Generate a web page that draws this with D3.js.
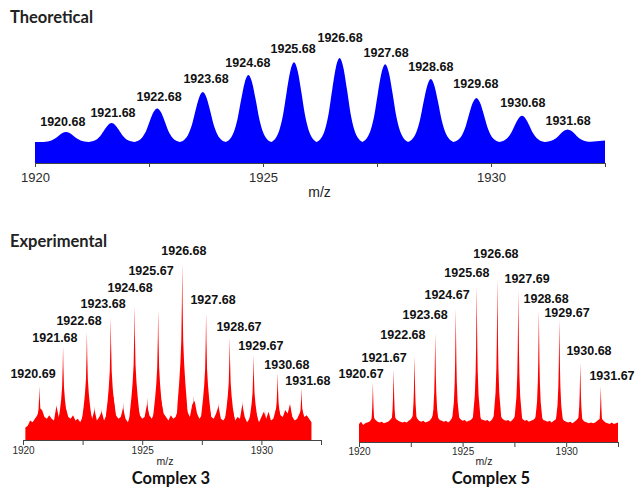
<!DOCTYPE html>
<html>
<head>
<meta charset="utf-8">
<script src="https://d3js.org/d3.v7.min.js"></script>
<style>
body { margin: 0; background: #fff; }
</style>
</head>
<body>
<div class="spectra"></div>
<script>
// all intensities are relative (%), tallest peak of each panel = 100

var axisTicks = [1920, 1922.5, 1925, 1927.5, 1930, 1932.5];

// theoretical isotope envelope
var theoMz = [1920.68, 1921.68, 1922.68, 1923.68, 1924.68, 1925.68, 1926.68, 1927.68, 1928.68, 1929.68, 1930.68, 1931.68];
var theoTop = [29.5, 38, 52, 67.6, 83.8, 96, 100, 94, 80, 62, 45, 32];
var theoBase = 20;
var theoFloor = [[1920, 20], [1932, 20], [1932.5, 21.5]];
var theoLabelMz = [1920.61, 1921.71, 1922.72, 1923.75, 1924.67, 1925.66, 1926.69, 1927.70, 1928.68, 1929.67, 1930.70, 1931.69];
var theoLabelY = [35.2, 43.8, 59, 76.2, 91.4, 104.8, 115.2, 101, 87.6, 71.4, 53.3, 36.2];

// experimental, complex 3
var exp3Mz = [1920.69, 1921.68, 1922.68, 1923.68, 1924.68, 1925.67, 1926.68, 1927.68, 1928.67, 1929.67, 1930.68, 1931.68];
var exp3Top = [30.5, 53, 61, 69.5, 76, 73.4, 100, 71.8, 58, 48, 37.9, 29.4];
var exp3MinorMz = [1921.42, 1923.0, 1923.3, 1924.2, 1925.22, 1927.15, 1928.2, 1929.2, 1930.15, 1931.2];
var exp3MinorTop = [20, 19, 18, 21, 24, 25, 21, 22, 17, 21];
var exp3FloorStart = 1920.1;
var exp3Floor = [7, 8, 11, 10, 12, 14, 18, 17, 13, 12,
    14, 12, 11, 19, 13, 16, 20, 18, 13, 12,
    14, 11, 12, 10, 13, 20, 22, 17, 12, 17,
    11, 13, 16, 11, 14, 24, 28, 24, 14, 12,
    13, 18, 12, 10, 14, 22, 26, 20, 14, 12,
    13, 20, 14, 12, 15, 25, 30, 22, 15, 13,
    11, 14, 12, 13, 17, 30, 34, 24, 16, 13,
    20, 22, 15, 12, 14, 22, 26, 19, 13, 12,
    15, 19, 12, 11, 13, 18, 22, 17, 11, 13,
    12, 20, 13, 10, 12, 16, 20, 14, 10, 13,
    16, 12, 16, 11, 12, 17, 19, 14, 13, 17,
    15, 20, 13, 11, 12, 15, 18, 13, 14, 12, 10];
var exp3LabelMz = [1920.42, 1921.34, 1922.35, 1923.36, 1924.49, 1925.37, 1926.75, 1927.97, 1929.06, 1929.98, 1931.07, 1931.95];
var exp3LabelY = [35, 55.4, 65, 74.6, 83.6, 93.2, 104.5, 76.8, 61.6, 50.8, 40.1, 31.1];

// experimental, complex 5
var exp5Mz = [1920.67, 1921.67, 1922.68, 1923.68, 1924.67, 1925.68, 1926.68, 1927.69, 1928.68, 1929.67, 1930.68, 1931.67];
var exp5Top = [36.3, 44.7, 52.7, 67, 82, 95.9, 100, 93.2, 81, 75.2, 48.6, 34.2];
var exp5FloorStart = 1920.0;
var exp5Floor = [11, 12.5, 10.5, 11.5, 12, 12.5, 14, 15, 13.5, 12.5,
    12, 12.5, 11.5, 12, 12.5, 13.5, 15, 15.5, 14, 13,
    12.5, 12, 12.5, 12, 13, 14, 16, 16.5, 14.5, 13,
    12.5, 13, 12, 12.5, 13, 14.5, 17, 17.5, 15, 13.5,
    13, 12.5, 13, 12, 13, 15, 17.5, 18, 15.5, 14,
    13, 13.5, 12.5, 13, 13.5, 15, 18, 18.5, 16, 14,
    13.5, 13, 13.5, 12.5, 13.5, 15.5, 18.5, 19, 16.5, 14.5,
    13.5, 13, 13.5, 12.5, 13.5, 15, 18, 18.5, 16, 14,
    13, 13.5, 12.5, 13, 13.5, 14.5, 17, 17.5, 15, 13.5,
    13, 12.5, 13, 12, 13, 14, 16.5, 17, 14.5, 13,
    12.5, 12, 12.5, 11.5, 12.5, 13.5, 15, 15.5, 13.5, 12.5,
    12, 11.5, 12, 11.5, 12, 13, 14, 14.5, 13, 12,
    11.5, 11, 12, 11, 11.5, 12];
var exp5LabelMz = [1920.10, 1921.21, 1922.12, 1923.19, 1924.25, 1925.21, 1926.61, 1928.11, 1929.03, 1930.04, 1931.10, 1932.21];
var exp5LabelY = [39.3, 49.1, 63.2, 75.5, 87.7, 101.2, 112.9, 97.5, 85.3, 76.7, 53.4, 38];

// peak profiles (offset in m/z, fraction of peak height)
var theoShape = { offset: [-0.5, -0.4, -0.32, -0.24, -0.16, -0.08, 0, 0.08, 0.16, 0.24, 0.32, 0.4, 0.5], frac: [0, 0.05, 0.15, 0.34, 0.63, 0.89, 1, 0.89, 0.63, 0.34, 0.15, 0.05, 0] };
var exp3Shape = { offset: [-0.28, -0.2, -0.13, -0.08, -0.04, -0.015, 0, 0.015, 0.04, 0.08, 0.13, 0.2, 0.28], frac: [0, 0.2, 0.32, 0.43, 0.56, 0.78, 1, 0.78, 0.56, 0.43, 0.32, 0.2, 0] };
var exp5Shape = { offset: [-0.3, -0.18, -0.09, -0.05, -0.03, -0.012, 0, 0.012, 0.03, 0.05, 0.09, 0.18, 0.3], frac: [0, 0.16, 0.3, 0.45, 0.6, 0.82, 1, 0.82, 0.6, 0.45, 0.3, 0.16, 0] };

var svg = d3.select(".spectra").append("svg").attr("width", 635).attr("height", 488);
svg.append("rect").attr("width", 635).attr("height", 488).attr("fill", "#fff");

function floorPoints(start, values) {
    return values.map(function(v, i) { return [start + i * 0.1, v]; });
}

function drawPanel(p) {
    var x = d3.scaleLinear().domain([1920, 1932.5]).range([p.left, p.right]);
    var y = d3.scaleLinear().domain([0, 100]).range([p.axisY, p.topY]);
    var area = d3.area().x(function(d) { return x(d[0]); }).y0(p.axisY).y1(function(d) { return y(d[1]); }).curve(p.curve);
    var g = svg.append("g");
    g.append("path").datum(p.floor).attr("d", area).attr("fill", p.color);
    for (var i = 0; i < p.mz.length; i++) {
        var m = p.mz[i], h = p.top[i] - p.base;
        var pts = p.shape.offset.map(function(o, k) { return [m + o, p.base + h * p.shape.frac[k]]; });
        g.append("path").datum(pts).attr("d", area).attr("fill", p.color);
    }
    var axis = d3.axisBottom(x).tickValues(axisTicks).tickSizeInner(p.tick).tickSizeOuter(0).tickPadding(p.pad).tickFormat(d3.format("d"));
    var ax = svg.append("g").attr("transform", "translate(0," + p.axisY + ")").call(axis);
    ax.attr("font-family", "Arial, 'Liberation Sans', sans-serif").attr("font-size", p.tickFont);
    ax.select(".domain").attr("stroke", "#444");
    ax.selectAll(".tick line").attr("stroke", "#444");
    ax.selectAll(".tick text").attr("fill", "#2a2a2a");
    ax.selectAll(".tick text").filter(function(d) { return d % 5 !== 0; }).remove();
    svg.append("text").attr("x", p.unitX).attr("y", p.unitY).attr("text-anchor", "middle").attr("font-family", "Arial, 'Liberation Sans', sans-serif").attr("font-size", p.unitFont).attr("fill", "#222").text("m/z");
    svg.append("g").selectAll("text").data(p.labelMz).join("text")
        .attr("x", function(d) { return x(d); })
        .attr("y", function(d, i) { return y(p.labelY[i]); })
        .attr("text-anchor", "middle").attr("font-family", "Arial, 'Liberation Sans', sans-serif").attr("font-weight", "bold").attr("font-size", 12.5).attr("fill", "#111")
        .text(function(d, i) { return p.mz[i].toFixed(2); });
}

drawPanel({ left: 35, right: 605, axisY: 163, topY: 58, color: "#0000ff", curve: d3.curveMonotoneX,
    floor: theoFloor, mz: theoMz, top: theoTop, base: theoBase, shape: theoShape,
    labelMz: theoLabelMz, labelY: theoLabelY,
    tick: 4, pad: 6, tickFont: 13, unitX: 319.5, unitY: 197, unitFont: 14 });

drawPanel({ left: 23, right: 321, axisY: 440, topY: 263, color: "#ff0000", curve: d3.curveLinear,
    floor: floorPoints(exp3FloorStart, exp3Floor), mz: exp3Mz.concat(exp3MinorMz), top: exp3Top.concat(exp3MinorTop), base: 0, shape: exp3Shape,
    labelMz: exp3LabelMz, labelY: exp3LabelY,
    tick: 5, pad: 2, tickFont: 10, unitX: 165, unitY: 465, unitFont: 10.5 });

drawPanel({ left: 359, right: 618, axisY: 442, topY: 279, color: "#ff0000", curve: d3.curveLinear,
    floor: floorPoints(exp5FloorStart, exp5Floor), mz: exp5Mz, top: exp5Top, base: 0, shape: exp5Shape,
    labelMz: exp5LabelMz, labelY: exp5LabelY,
    tick: 5, pad: 1, tickFont: 10, unitX: 484, unitY: 465, unitFont: 10.5 });

var titleFont = "Lato, 'Open Sans', sans-serif";
svg.append("text").attr("x", 10).attr("y", 23).attr("font-family", titleFont).attr("font-weight", "bold").attr("font-size", 16.5).attr("fill", "#222").text("Theoretical");
svg.append("text").attr("x", 10).attr("y", 247).attr("font-family", titleFont).attr("font-weight", "bold").attr("font-size", 16.5).attr("fill", "#222").text("Experimental");
svg.append("text").attr("x", 171).attr("y", 484).attr("text-anchor", "middle").attr("font-family", titleFont).attr("font-weight", "bold").attr("font-size", 16.5).attr("fill", "#111").text("Complex 3");
svg.append("text").attr("x", 491).attr("y", 484).attr("text-anchor", "middle").attr("font-family", titleFont).attr("font-weight", "bold").attr("font-size", 16.5).attr("fill", "#111").text("Complex 5");
</script>
</body>
</html>
